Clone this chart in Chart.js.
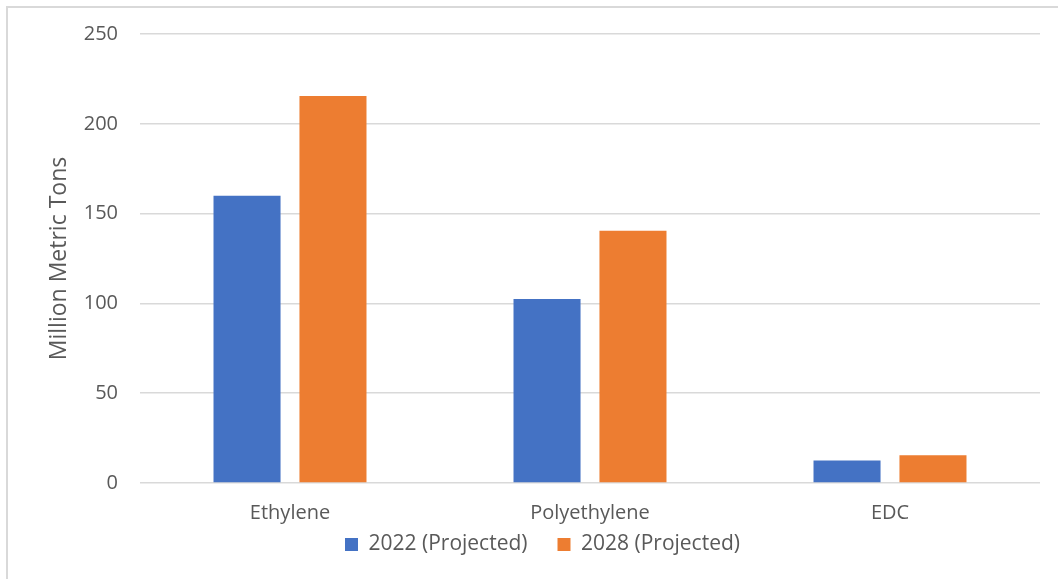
<!DOCTYPE html>
<html>
<head>
<meta charset="utf-8">
<script src="https://cdn.jsdelivr.net/npm/chart.js@4"></script>
<style>
  html, body { margin: 0; padding: 0; background: #ffffff; }
  #wrap { position: relative; width: 1058px; height: 579px; overflow: hidden; }
  #frame { position: absolute; left: 6px; top: 6px; width: 1100px; height: 620px;
           border-left: 2px solid #d9d9d9; border-top: 2px solid #d9d9d9; pointer-events: none; }
  canvas { position: absolute; left: 0; top: 0; }
</style>
</head>
<body>
<div id="wrap">
  <canvas id="c" width="1058" height="579"></canvas>
  <div id="frame"></div>
</div>
<script>
const categories = ["Ethylene", "Polyethylene", "EDC"];
const seriesNames = ["2022 (Projected)", "2028 (Projected)"];
const values2022 = [160, 102.5, 12.5];
const values2028 = [215.5, 140.5, 15.5];
const yTicks = [0, 50, 100, 150, 200, 250];

const textColor = "#595959";
const fontFamily = "'Open Sans', sans-serif";

const legendShift = {
  id: "legendShift",
  afterLayout(chart) {
    const l = chart.legend;
    if (l) { l.top -= 24; }
  }
};

new Chart(document.getElementById("c"), {
  type: "bar",
  data: {
    labels: categories,
    datasets: [
      { label: seriesNames[0], data: values2022, backgroundColor: "#4472C4", borderWidth: 0,
        categoryPercentage: 0.573, barPercentage: 0.78 },
      { label: seriesNames[1], data: values2028, backgroundColor: "#ED7D31", borderWidth: 0,
        categoryPercentage: 0.573, barPercentage: 0.78 }
    ]
  },
  plugins: [legendShift],
  options: {
    responsive: false,
    animation: false,
    devicePixelRatio: 1,
    layout: { padding: { left: 45, right: 18, top: 32, bottom: 1 } },
    plugins: {
      title: { display: false },
      tooltip: { enabled: false },
      legend: {
        position: "bottom",
        maxHeight: 50,
        labels: {
          color: textColor,
          font: { family: fontFamily, size: 21 },
          boxWidth: 13,
          boxHeight: 13,
          padding: 30
        }
      }
    },
    scales: {
      x: {
        grid: { display: false, drawTicks: false },
        border: { display: false },
        ticks: { color: textColor, font: { family: fontFamily, size: 20 }, padding: 18, maxRotation: 0 },
        afterFit: (s) => { s.height = 45; }
      },
      y: {
        min: 0,
        max: 250,
        afterBuildTicks: (s) => { s.ticks = yTicks.map(v => ({ value: v })); },
        grid: { color: "#d9d9d9", lineWidth: 1.5, drawTicks: false },
        border: { display: false },
        ticks: { color: textColor, font: { family: fontFamily, size: 20 }, padding: 22 },
        title: {
          display: true,
          text: "Million Metric Tons",
          color: textColor,
          font: { family: fontFamily, size: 23, weight: "normal" },
          padding: { top: 1, bottom: 0 }
        },
        afterFit: (s) => { s.width = 95; }
      }
    }
  }
});
</script>
</body>
</html>
